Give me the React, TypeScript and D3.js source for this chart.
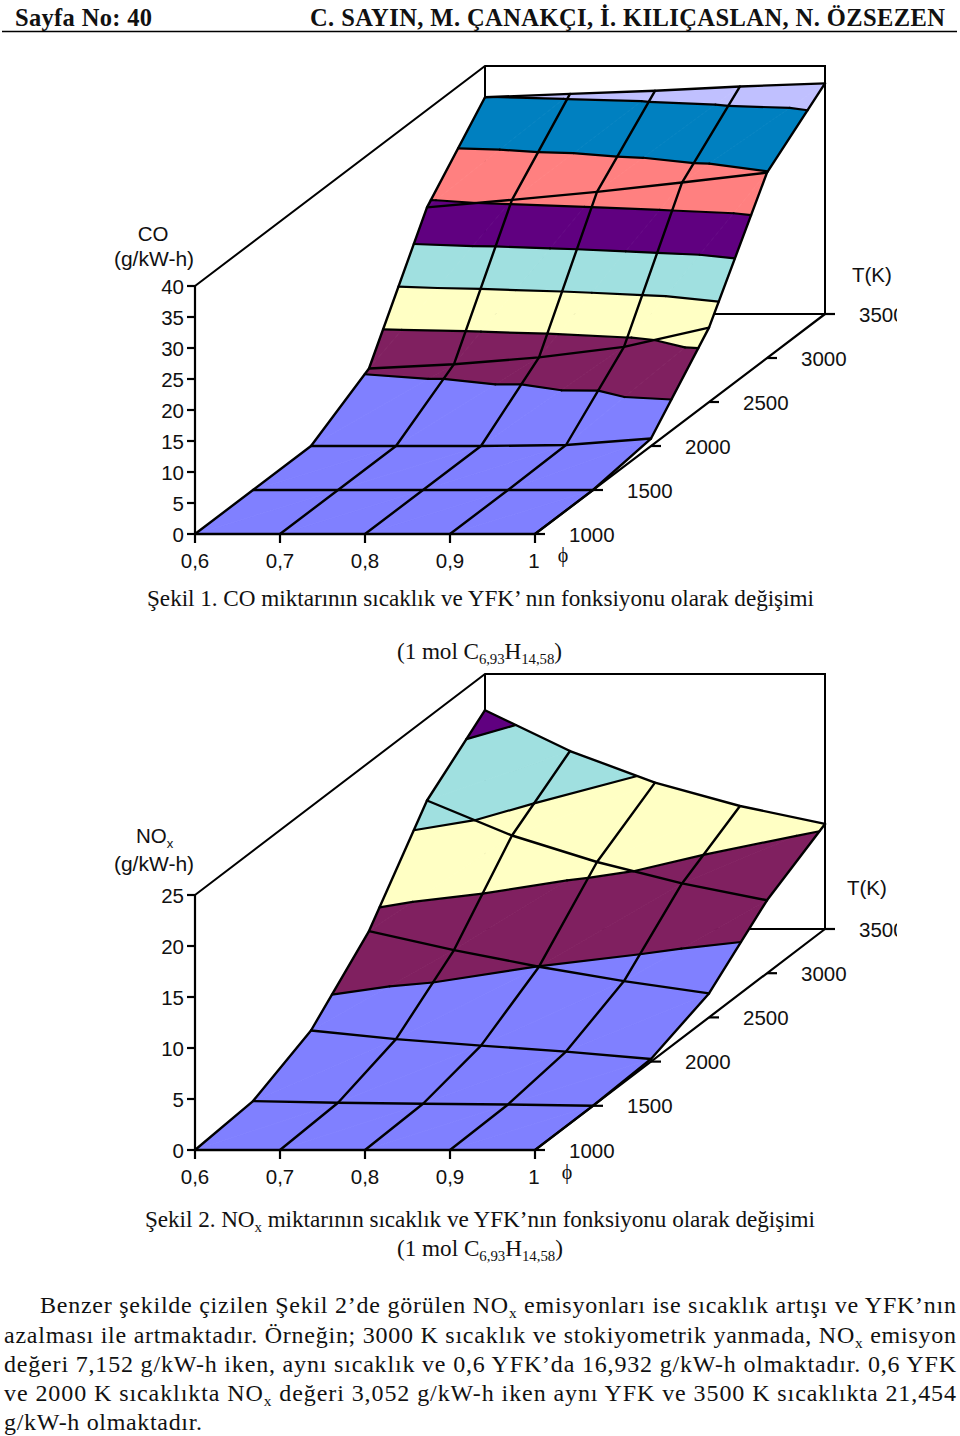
import React from "react";
import * as d3 from "d3";

const phiValues = [0.6, 0.7, 0.8, 0.9, 1];
const phiLabels = ["0,6", "0,7", "0,8", "0,9", "1"];
const tempValues = [1000, 1500, 2000, 2500, 3000, 3500];
const coTicks = [0, 5, 10, 15, 20, 25, 30, 35, 40];
const noxTicks = [0, 5, 10, 15, 20, 25];
const bandColors = ["#8080ff", "#802060", "#ffffc4", "#a0e0e0", "#600080", "#ff8080", "#0080c0", "#c0c0ff"];

const coT1000 = [0, 0, 0, 0, 0];
const coT1500 = [0, 0, 0, 0, 0];
const coT2000 = [0, 0, 0, 0.16, 1.2];
const coT2500 = [5.4, 6.1, 7.2, 8.9, 12];
const coT3000 = [24.3, 25.5, 26.8, 28.3, 29.9];
const coT3500 = [34.95, 35.5, 36, 36.7, 37.2];
const coRows = [coT1000, coT1500, coT2000, coT2500, coT3000, coT3500];

const noxT1000 = [0, 0, 0, 0, 0];
const noxT1500 = [0.46, 0.3, 0.2, 0.13, 0];
const noxT2000 = [3.05, 2.2, 1.57, 0.98, 0.26];
const noxT2500 = [8.46, 6.6, 4.97, 3.56, 2.35];
const noxT3000 = [16.93, 13.5, 10.9, 8.8, 7.15];
const noxT3500 = [21.45, 17.45, 14.35, 12.06, 10.3];
const noxRows = [noxT1000, noxT1500, noxT2000, noxT2500, noxT3000, noxT3500];

const FONT = "'Liberation Sans', Arial, sans-serif";
const SERIF = "'Liberation Serif', 'Times New Roman', serif";
const LABEL = 20.5;
const CAP = 23.2;
const BODY = 24;

type P = { f: number; t: number; z: number };

function clip(poly: P[], level: number, keepAbove: boolean): P[] {
  const out: P[] = [];
  const inside = (p: P) => (keepAbove ? p.z >= level : p.z <= level);
  poly.forEach((a, i) => {
    const b = poly[(i + 1) % poly.length];
    if (inside(a)) out.push(a);
    if (inside(a) !== inside(b)) {
      const u = (level - a.z) / (b.z - a.z);
      out.push({ f: a.f + (b.f - a.f) * u, t: a.t + (b.t - a.t) * u, z: level });
    }
  });
  return out;
}

function levelSegment(tri: P[], level: number): P[] | null {
  const pts: P[] = [];
  tri.forEach((a, i) => {
    const b = tri[(i + 1) % 3];
    if ((a.z < level && b.z >= level) || (a.z >= level && b.z < level)) {
      const u = (level - a.z) / (b.z - a.z);
      pts.push({ f: a.f + (b.f - a.f) * u, t: a.t + (b.t - a.t) * u, z: level });
    }
  });
  return pts.length === 2 ? pts : null;
}

function Chart({ rows, zMax, zTicks, y0, yTop, tempRowY, title, tLabelX, tLabelY, phiX, phiY, unitY }: any) {
  const fX = d3.scaleLinear().domain([0.6, 1]).range([195, 535]);
  const tX = d3.scaleLinear().domain([1000, 3500]).range([0, 290]);
  const tY = d3.scaleLinear().domain([1000, 3500]).range([0, -tempRowY]);
  const zY = d3.scaleLinear().domain([0, zMax]).range([0, yTop - y0]);
  const px = (p: P) => fX(p.f) + tX(p.t);
  const py = (p: P) => y0 + tY(p.t) + zY(p.z);
  const line = d3.line<P>().x(px).y(py);
  const closed = d3.line<P>().x(px).y(py).curve(d3.curveLinearClosed);
  const levels = d3.range(0, zMax + 5, 5);

  const fills: React.ReactNode[] = [];
  const contours: string[] = [];
  for (let r = rows.length - 2; r >= 0; r--) {
    for (let c = 0; c < phiValues.length - 1; c++) {
      const g = (i: number, j: number): P => ({ f: phiValues[j], t: tempValues[i], z: rows[i][j] });
      const a = g(r, c), b = g(r, c + 1), cc = g(r + 1, c + 1), d = g(r + 1, c);
      const tris = [[a, b, cc], [a, cc, d]];
      tris.forEach((tri, ti) => {
        levels.slice(0, -1).forEach((lo: number, k: number) => {
          const poly = clip(clip(tri, lo, true), lo + 5, false);
          if (poly.length >= 3) {
            const path = closed(poly) as string;
            fills.push(<path key={`${r}-${c}-${ti}-${k}`} d={path} fill={bandColors[k]} stroke={bandColors[k]} strokeWidth={0.8} />);
          }
        });
        levels.slice(1).forEach((lv: number) => {
          const s = levelSegment(tri, lv);
          if (s) contours.push(line(s) as string);
        });
      });
    }
  }
  const rowPath = (i: number) => line(phiValues.map((f, j) => ({ f, t: tempValues[i], z: rows[i][j] }))) as string;
  const colPath = (j: number) => line(tempValues.map((t, i) => ({ f: phiValues[j], t, z: rows[i][j] }))) as string;
  const bx = fX(0.6) + tX(3500), bxR = fX(1) + tX(3500), by = y0 + tY(3500);
  const topBack = yTop + tY(3500);
  const clipId = `clip-${y0}`;
  const ink = "#000";
  return (
    <g>
      <defs><clipPath id={clipId}><rect x={0} y={y0 - 700} width={897} height={800} /></clipPath></defs>
      <g stroke={ink} strokeWidth={2} fill="none">
        <path d={`M195,${yTop}L${bx},${topBack}L${bxR},${topBack}L${bxR},${by}L${bx},${by}`} />
        <path d={`M${bx},${topBack}L${bx},${by}`} />
      </g>
      {fills}
      <g fill="none" stroke={ink} strokeWidth={2.4} strokeLinejoin="round" strokeLinecap="round">
        {contours.map((d, i) => <path key={i} d={d} strokeWidth={2.2} />)}
        {tempValues.map((_, i) => <path key={i} d={rowPath(i)} />)}
        {phiValues.map((_, j) => <path key={j} d={colPath(j)} />)}
      </g>
      <g stroke={ink} strokeWidth={2.2} fill="none">
        <path d={`M195,${yTop}L195,${y0}L535,${y0}L${bxR},${by}`} />
        {zTicks.map((z: number) => <path key={z} d={`M187,${y0 + zY(z)}H195`} />)}
        {phiValues.map((f) => <path key={f} d={`M${fX(f)},${y0}V${y0 + 9}`} />)}
        {tempValues.map((t) => <path key={t} d={`M${fX(1) + tX(t)},${y0 + tY(t)}h10`} />)}
      </g>
      <g fontFamily={FONT} fontSize={LABEL} fill="#111">
        {zTicks.map((z: number) => <text key={z} x={184} y={y0 + zY(z) + 7.5} textAnchor="end">{z}</text>)}
        {phiValues.map((f, i) => <text key={f} x={i === 4 ? 534 : fX(f)} y={y0 + 33.5} textAnchor="middle">{phiLabels[i]}</text>)}
        <g clipPath={`url(#${clipId})`}>
          {tempValues.map((t) => <text key={t} x={fX(1) + tX(t) + 34} y={y0 + tY(t) + 7.5}>{t}</text>)}
        </g>
        <text x={tLabelX} y={tLabelY}>T(K)</text>
        <text x={154} y={unitY} textAnchor="middle" fontSize={21}>(g/kW-h)</text>
        {title}
      </g>
      <text x={phiX} y={phiY} fontFamily={SERIF} fontSize={20} fill="#111" textAnchor="middle">ϕ</text>
    </g>
  );
}

function Serif({ x, y, size = CAP, len, bold, children }: any) {
  return (
    <text x={x} y={y} fontFamily={SERIF} fontSize={size} fontWeight={bold ? 700 : 400} fill="#111"
      textLength={len} lengthAdjust="spacing">{children}</text>
  );
}

function sub(t: string, after: string, base: number) {
  const d = base * 0.2;
  return [
    <tspan key="s" dy={d} fontSize={base * 0.64}>{t}</tspan>,
    <tspan key="a" dy={-d} fontSize={base}>{after}</tspan>,
  ];
}

function Formula({ y, len }: { y: number; len: number }) {
  const d = CAP * 0.2;
  const s = CAP * 0.64;
  return (
    <Serif x={397} y={y} len={len}>
      (1 mol C<tspan dy={d} fontSize={s}>6,93</tspan><tspan dy={-d}>H</tspan><tspan dy={d} fontSize={s}>14,58</tspan><tspan dy={-d}>)</tspan>
    </Serif>
  );
}

export default function App() {
  return (
    <svg width={960} height={1436} style={{ position: "absolute", left: 0, top: 0, display: "block", background: "#fff" }}>
      <Serif x={15} y={25.5} size={24.5} len={137} bold>Sayfa No: 40</Serif>
      <Serif x={310} y={25.5} size={24.5} len={635} bold>C. SAYIN, M. ÇANAKÇI, İ. KILIÇASLAN, N. ÖZSEZEN</Serif>
      <path d="M2,31.5H957" stroke="#000" strokeWidth={1.5} />

      <Chart rows={coRows} zMax={40} zTicks={coTicks} y0={534} yTop={286} tempRowY={220}
        tLabelX={852} tLabelY={282} phiX={563} phiY={562} unitY={266}
        title={<text x={153} y={241} textAnchor="middle">CO</text>} />

      <Serif x={147} y={606} len={667}>Şekil 1. CO miktarının sıcaklık ve YFK’ nın fonksiyonu olarak değişimi</Serif>
      <Formula y={659} len={165} />

      <Chart rows={noxRows} zMax={25} zTicks={noxTicks} y0={1150} yTop={895} tempRowY={221}
        tLabelX={847} tLabelY={895} phiX={567} phiY={1179} unitY={871}
        title={<text x={136} y={843}>NO<tspan dy={5} fontSize={13}>x</tspan></text>} />

      <Serif x={145} y={1227} len={670}>Şekil 2. NO{sub("x", " miktarının sıcaklık ve YFK’nın fonksiyonu olarak değişimi", CAP)}</Serif>
      <Formula y={1256} len={166} />

      <Serif x={40} y={1313} size={BODY} len={916}>Benzer şekilde çizilen Şekil 2’de görülen NO{sub("x", " emisyonları ise sıcaklık artışı ve YFK’nın", BODY)}</Serif>
      <Serif x={4} y={1343} size={BODY} len={952}>azalması ile artmaktadır. Örneğin; 3000 K sıcaklık ve stokiyometrik yanmada, NO{sub("x", " emisyon", BODY)}</Serif>
      <Serif x={4} y={1372} size={BODY} len={952}>değeri 7,152 g/kW-h iken, aynı sıcaklık ve 0,6 YFK’da 16,932 g/kW-h olmaktadır. 0,6 YFK</Serif>
      <Serif x={4} y={1401} size={BODY} len={952}>ve 2000 K sıcaklıkta NO{sub("x", " değeri 3,052 g/kW-h iken aynı YFK ve 3500 K sıcaklıkta 21,454", BODY)}</Serif>
      <Serif x={4} y={1430} size={BODY} len={198}>g/kW-h olmaktadır.</Serif>
    </svg>
  );
}
